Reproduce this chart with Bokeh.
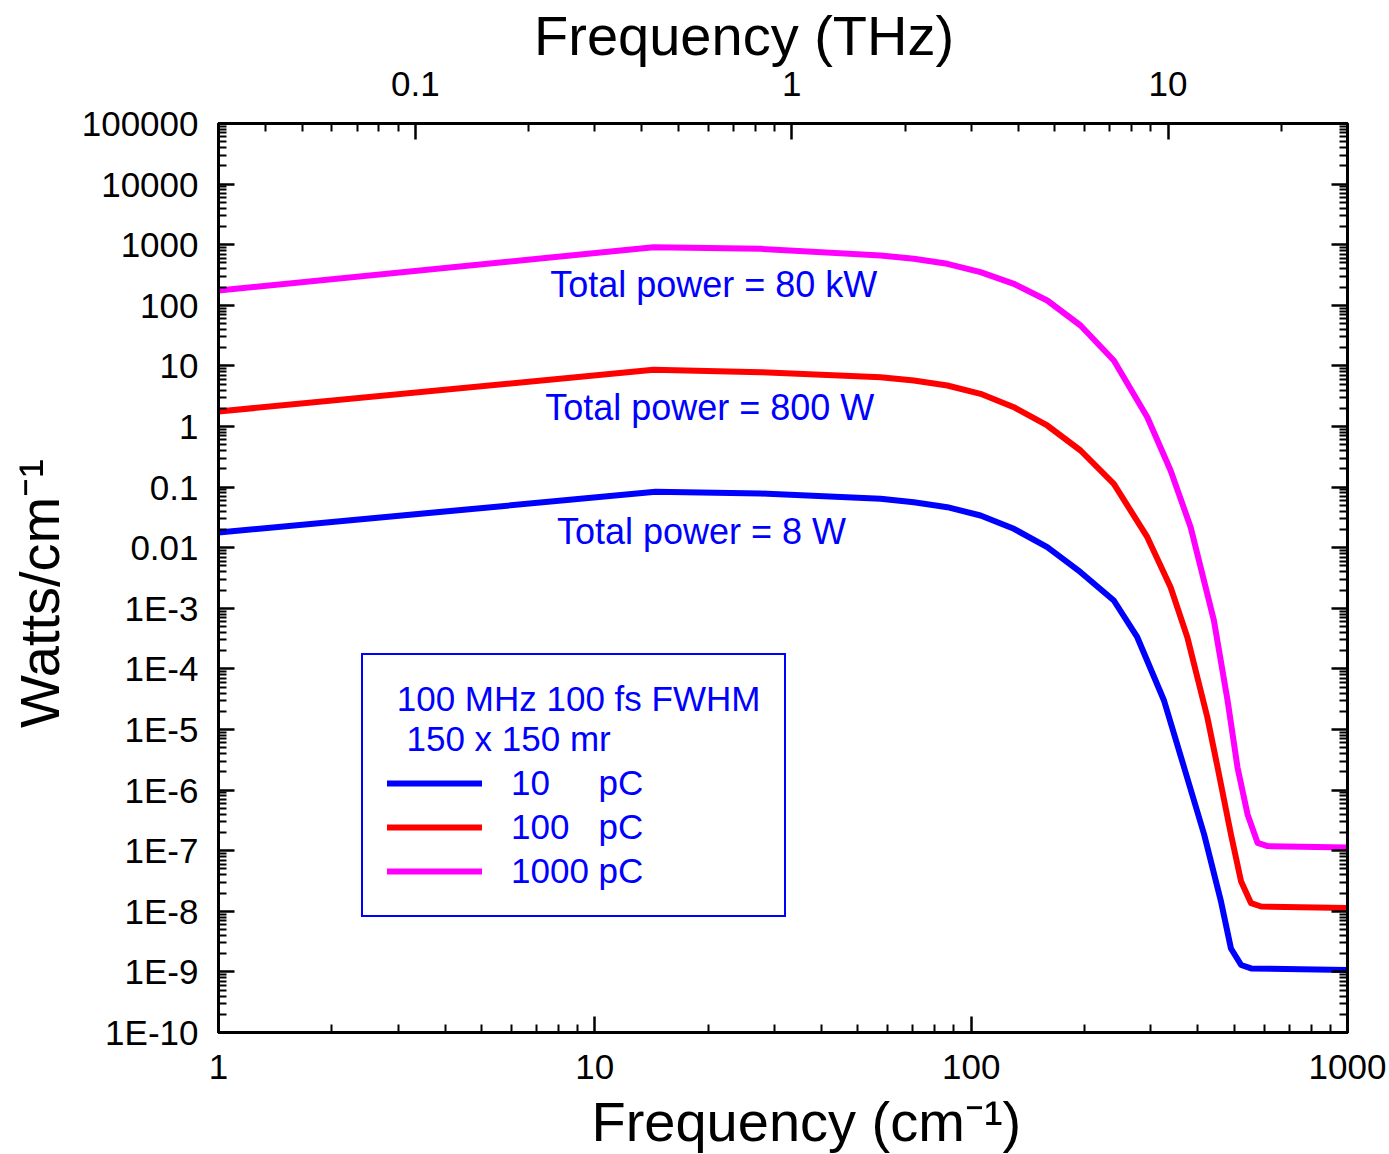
from bokeh.plotting import figure
from bokeh.models import (Range1d, LogScale, LogAxis, FixedTicker,
                          CustomJSTickFormatter, Legend, LegendItem)
from bokeh.core.properties import value
from bokeh.embed import file_html
from bokeh.resources import INLINE

# ---------------- data ----------------
wn_10pc = [1, 14.5, 27.56, 57.44, 70.42, 86.41, 105.9, 129.9, 159.3, 195.3, 239.4,
           276.3, 325.4, 368.0, 416.0, 461.2, 490.2, 521.6, 554.3, 1000]
pw_10pc = [0.0178, 0.0835, 0.0784, 0.0641, 0.0563, 0.0466, 0.0340, 0.0205, 0.01019,
           0.003942, 0.001345, 3.334e-4, 3.01e-5, 2.36e-6, 1.85e-7, 1.45e-8,
           2.43e-9, 1.30e-9, 1.14e-9, 1.07e-9]

wn_100pc = [1, 14.32, 27.56, 57.44, 70.42, 86.41, 105.9, 129.9, 159.3, 195.3, 239.4,
            293.8, 338.8, 375.3, 424.1, 451.7, 490.2, 521.6, 554.3, 589.3, 1000]
pw_100pc = [1.77, 8.62, 7.87, 6.51, 5.74, 4.75, 3.46, 2.08, 1.039, 0.4018, 0.1133,
            0.01491, 0.002230, 3.334e-4, 1.6e-5, 2.36e-6, 1.85e-7, 3.1e-8, 1.36e-8,
            1.2e-8, 1.13e-8]

wn_1000pc = [1, 14.32, 27.56, 57.44, 70.42, 86.41, 105.9, 129.9, 159.3, 195.3, 239.4,
             293.8, 338.8, 383.0, 441.6, 480.1, 510.3, 542.6, 576.8, 613.4, 1000]
pw_1000pc = [175, 909, 855.5, 663.4, 585.3, 483.9, 351.7, 226.3, 120.0, 46.4, 12.28,
             1.424, 0.188, 0.0218, 6.29e-4, 3.01e-5, 2.36e-6, 3.96e-7, 1.35e-7,
             1.19e-7, 1.13e-7]

series_labels = ["10\u00a0\u00a0\u00a0\u00a0\u00a0pC", "100\u00a0\u00a0\u00a0pC", "1000 pC"]
series_colors = ["#0000FF", "#FF0000", "#FF00FF"]
legend_title = "\u00a0100 MHz 100 fs FWHM\n\u00a0\u00a0150 x 150 mr"

power_texts = ["Total power = 80 kW", "Total power = 800 W", "Total power = 8 W"]
power_text_x = [20.7, 20.2, 19.2]
power_text_y = [220, 2.06, 0.0185]

x_ticks = [1, 10, 100, 1000]
x_tick_labels = ["1", "10", "100", "1000"]
thz_ticks = [0.1, 1, 10]
thz_tick_labels = ["0.1", "1", "10"]
y_ticks = [1e5, 1e4, 1e3, 1e2, 1e1, 1, 1e-1, 1e-2, 1e-3, 1e-4, 1e-5, 1e-6,
           1e-7, 1e-8, 1e-9, 1e-10]
y_tick_labels = ["100000", "10000", "1000", "100", "10", "1", "0.1", "0.01",
                 "1E-3", "1E-4", "1E-5", "1E-6", "1E-7", "1E-8", "1E-9", "1E-10"]

CM_TO_THZ = 0.0299792458
FONT = "Liberation Sans"
NB = "\u00a0"

# ---------------- figure ----------------
p = figure(frame_width=1129, frame_height=909,
           x_axis_type="log", y_axis_type="log",
           x_range=Range1d(1, 1000), y_range=Range1d(1e-10, 1e5),
           output_backend="svg", toolbar_location=None,
           min_border_left=218, min_border_right=42,
           min_border_top=123, min_border_bottom=121)
p.xgrid.visible = False
p.ygrid.visible = False
p.outline_line_color = "black"
p.outline_line_width = 3
p.background_fill_color = "white"
p.border_fill_color = "white"


def fmt(vals, labs):
    return CustomJSTickFormatter(args=dict(vals=vals, labs=labs), code="""
        let best = 0, bd = Infinity;
        for (let i = 0; i < vals.length; i++) {
            const d = Math.abs(Math.log10(vals[i]) - Math.log10(tick));
            if (d < bd) { bd = d; best = i; }
        }
        return labs[best];
    """)


blank = CustomJSTickFormatter(code="return '';")

minor_x = [m * 10 ** k for k in range(0, 3) for m in range(2, 10)]
minor_thz = [m * 10.0 ** k for k in range(-2, 2) for m in range(2, 10)]
minor_y = [m * 10.0 ** k for k in range(-10, 5) for m in range(2, 10)]


def style(ax):
    ax.axis_line_width = 3
    ax.axis_line_color = "black"
    ax.major_tick_in = 16
    ax.major_tick_out = 0
    ax.minor_tick_in = 8
    ax.minor_tick_out = 0
    ax.major_tick_line_width = 2.5
    ax.minor_tick_line_width = 2
    ax.major_label_text_font = FONT
    ax.major_label_text_font_size = "35px"
    ax.major_label_text_color = "black"
    ax.axis_label_text_font = FONT
    ax.axis_label_text_font_size = "56px"
    ax.axis_label_text_font_style = "normal"
    ax.axis_label_text_color = "black"


xb = p.below[0]
xb.ticker = FixedTicker(ticks=x_ticks, minor_ticks=minor_x)
xb.formatter = fmt(x_ticks, x_tick_labels)
xb.axis_label = NB * 3 + "Frequency (cm\u207b\u00b9)"
style(xb)
xb.major_label_standoff = 22
xb.axis_label_standoff = 8

yl = p.left[0]
yl.ticker = FixedTicker(ticks=y_ticks, minor_ticks=minor_y)
yl.formatter = fmt(y_ticks, y_tick_labels)
yl.axis_label = "Watts/cm\u207b\u00b9" + NB * 2
style(yl)
yl.major_label_standoff = 20
yl.axis_label_standoff = 8

p.extra_x_ranges = {"thz": Range1d(1 * CM_TO_THZ, 1000 * CM_TO_THZ)}
p.extra_x_scales = {"thz": LogScale()}
xt = LogAxis(x_range_name="thz",
             ticker=FixedTicker(ticks=thz_ticks, minor_ticks=minor_thz),
             formatter=fmt(thz_ticks, thz_tick_labels),
             axis_label="Frequency (THz)" + NB * 5)
style(xt)
xt.major_label_standoff = 28
xt.axis_label_standoff = 2
p.add_layout(xt, "above")

yr = LogAxis(ticker=FixedTicker(ticks=y_ticks, minor_ticks=minor_y), formatter=blank)
style(yr)
yr.major_label_text_font_size = "1px"
yr.major_label_standoff = 0
p.add_layout(yr, "right")

# ---------------- curves ----------------
xs = [wn_10pc, wn_100pc, wn_1000pc]
ys = [pw_10pc, pw_100pc, pw_1000pc]
renderers = []
for x, y, c in zip(xs, ys, series_colors):
    r = p.line(x, y, line_color=c, line_width=6, line_join="round", line_cap="round")
    renderers.append(r)

p.text(x=power_text_x, y=power_text_y, text=power_texts,
       text_align="center", text_baseline="middle",
       text_color="#0000FF", text_font=value(FONT), text_font_size="36px")

legend = Legend(
    items=[LegendItem(label=l, renderers=[r]) for l, r in zip(series_labels, renderers)],
    location=(143, 115), margin=0, padding=24,
    title=legend_title,
    title_text_font=FONT, title_text_font_size="35px", title_text_font_style="normal",
    title_text_color="#0000FF", title_standoff=4, title_text_line_height=1.45,
    label_text_font=FONT, label_text_font_size="35px", label_text_color="#0000FF",
    glyph_width=95, glyph_height=40, label_height=40, label_standoff=29, spacing=4,
    border_line_color="#0000FF", border_line_width=2, border_line_alpha=1.0,
    background_fill_color="white", background_fill_alpha=1.0,
)
p.add_layout(legend)

open("out.html", "w").write(file_html(p, INLINE))
